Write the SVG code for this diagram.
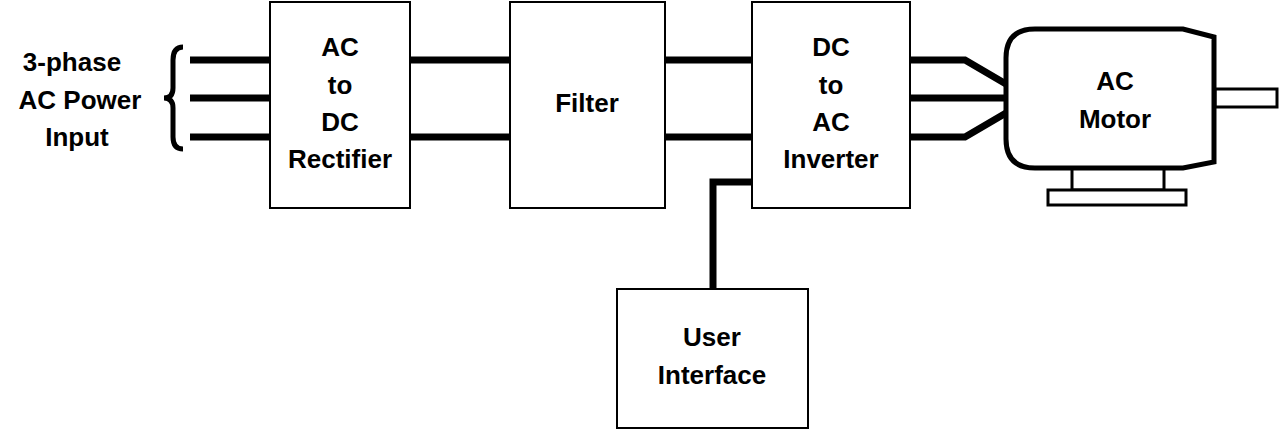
<svg xmlns="http://www.w3.org/2000/svg" width="1280" height="430" viewBox="0 0 1280 430">
<style>
.b{fill:#fff;stroke:#000;stroke-width:2}
.w{fill:none;stroke:#000;stroke-width:7}
.t{font-family:"Liberation Sans",Arial,sans-serif;font-weight:bold;font-size:26px;text-anchor:middle}
</style>
<rect width="1280" height="430" fill="#fff"/>
<g id="input">
<text class="t" x="72" y="71">3-phase</text>
<text class="t" x="80" y="109">AC Power</text>
<text class="t" x="77" y="146">Input</text>
<path d="M183,47 Q173,47 173,60 L173,88 Q173,98 164,98 Q173,98 173,108 L173,137 Q173,149 183,149" fill="none" stroke="#000" stroke-width="5"/>
</g>
<g id="connectors">
<path class="w" d="M190,60H270M190,98H270M190,137H270"/>
<path class="w" d="M410,60H510M410,137H510"/>
<path class="w" d="M665,60H752M665,137H752"/>
<path class="w" d="M713,289V182H752"/>
<path class="w" d="M910,60H965L1006,84M910,98H1008M910,137H965L1006,113"/>
</g>
<g id="rectifier"><rect class="b" x="270" y="2" width="140" height="206"/>
<text class="t" x="340" y="56">AC</text><text class="t" x="340" y="94">to</text><text class="t" x="340" y="131">DC</text><text class="t" x="340" y="168">Rectifier</text></g>
<g id="filter"><rect class="b" x="510" y="2" width="155" height="206"/>
<text class="t" x="587" y="112">Filter</text></g>
<g id="inverter"><rect class="b" x="752" y="2" width="158" height="206"/>
<text class="t" x="831" y="56">DC</text><text class="t" x="831" y="94">to</text><text class="t" x="831" y="131">AC</text><text class="t" x="831" y="168">Inverter</text></g>
<g id="ui"><rect class="b" x="617" y="289" width="191" height="139"/>
<text class="t" x="712" y="346">User</text><text class="t" x="712" y="384">Interface</text></g>
<g id="motor">
<rect x="1215" y="89" width="62" height="18" fill="#fff" stroke="#000" stroke-width="3"/>
<rect x="1072" y="168" width="92" height="22" fill="#fff" stroke="#000" stroke-width="3"/>
<rect x="1048" y="190" width="138" height="15" fill="#fff" stroke="#000" stroke-width="3"/>
<path d="M1035,29H1183L1214,37V162L1183,168H1035Q1006,168 1006,139V58Q1006,29 1035,29Z" fill="#fff" stroke="#000" stroke-width="5"/>
<text class="t" x="1115" y="90">AC</text><text class="t" x="1115" y="128">Motor</text>
</g>
</svg>
